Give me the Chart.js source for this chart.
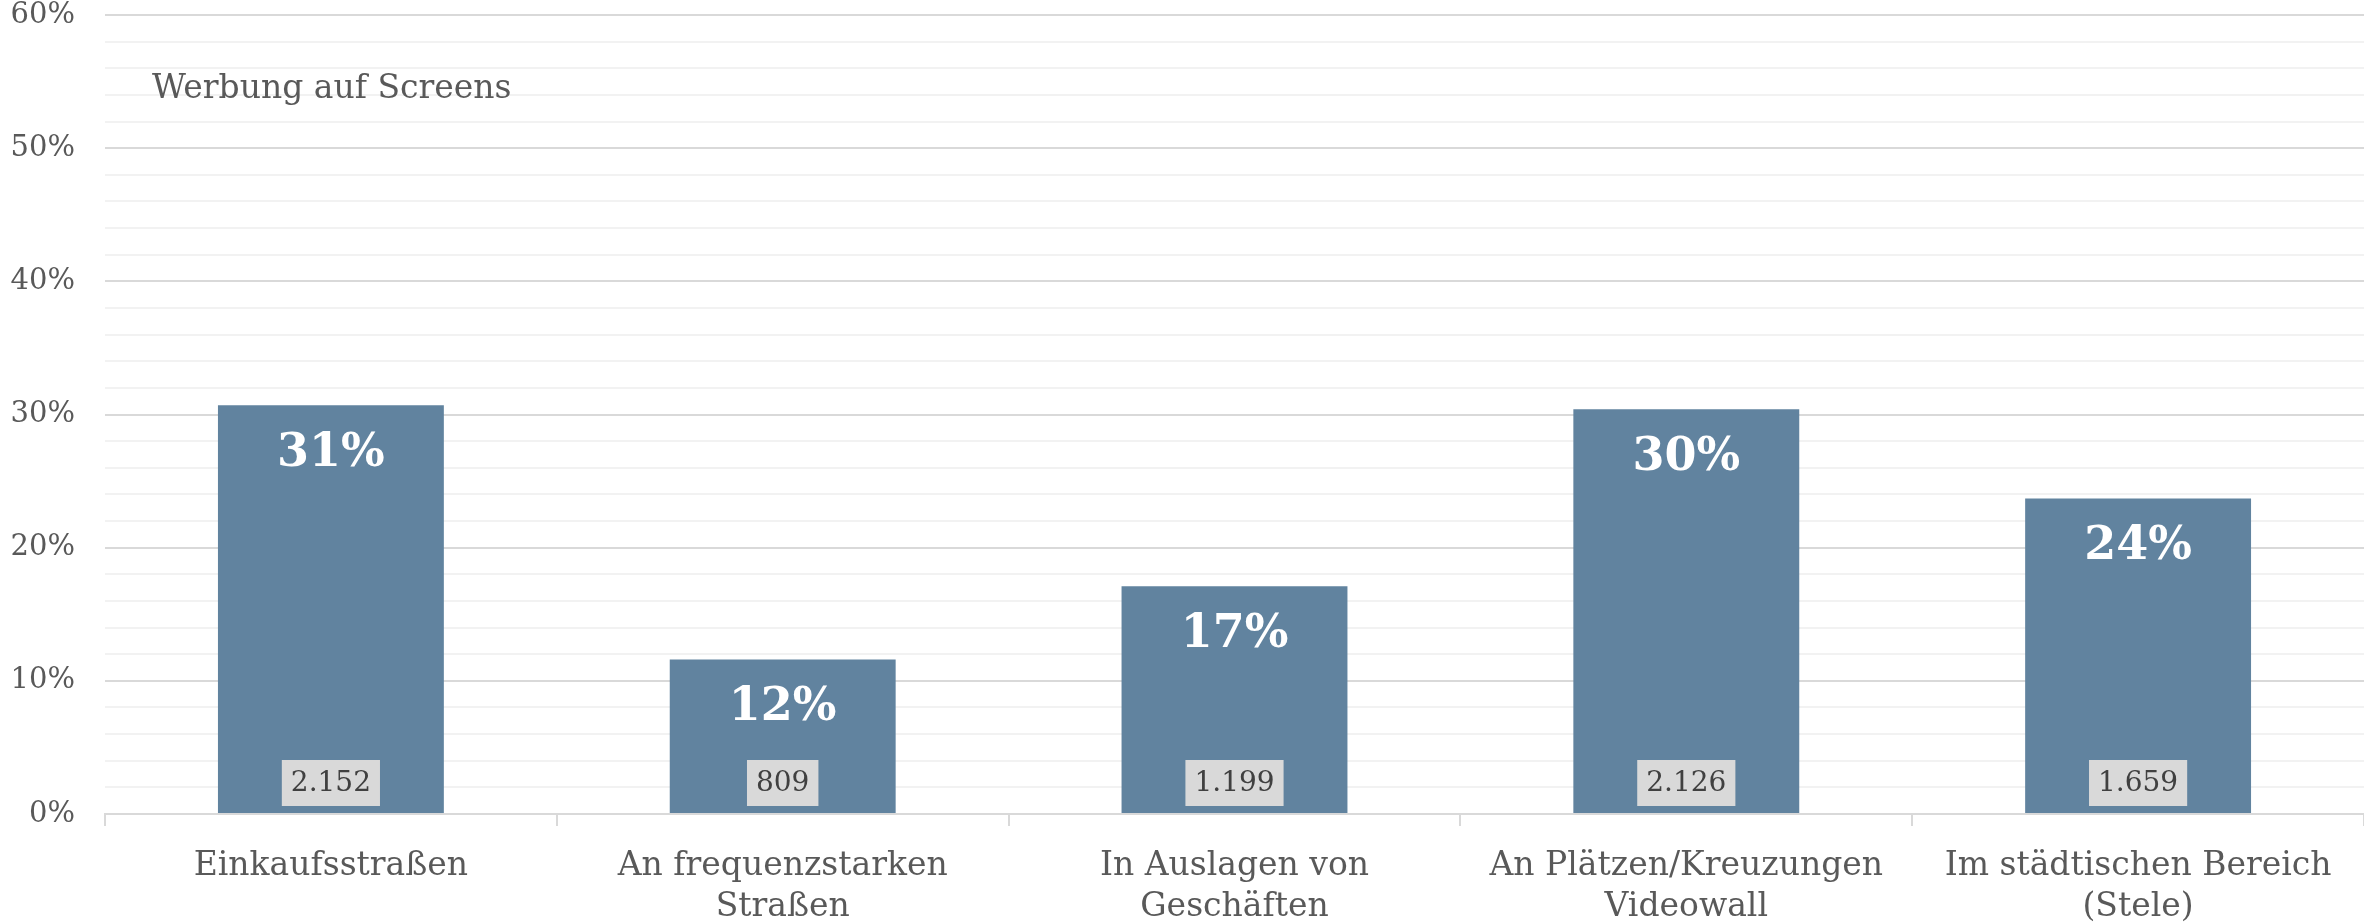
<!DOCTYPE html>
<html>
<head>
<meta charset="utf-8">
<script src="https://cdn.jsdelivr.net/npm/chart.js@4/dist/chart.umd.min.js"></script>
<style>
  html, body { margin: 0; padding: 0; background: #fff; }
  #wrap { width: 2364px; height: 924px; }
</style>
</head>
<body>
<div id="wrap"><canvas id="chart" width="2364" height="924"></canvas></div>
<script>
// values
const categories = [
    ["Einkaufsstraßen"],
    ["An frequenzstarken", "Straßen"],
    ["In Auslagen von", "Geschäften"],
    ["An Plätzen/Kreuzungen", "Videowall"],
    ["Im städtischen Bereich", "(Stele)"]
];
const shares = [30.7, 11.6, 17.1, 30.4, 23.7];        // percent
const counts = ["2.152", "809", "1.199", "2.126", "1.659"]; // respondents per bar
const chartTitle = "Werbung auf Screens";

const FONT = "'DejaVu Serif', serif";
const TEXT = "#595959";

// draws the title, the white percent labels and the grey count boxes
const labelPlugin = {
    id: "barLabels",
    afterDatasetsDraw(chart) {
        const ctx = chart.ctx;
        const area = chart.chartArea;
        const yScale = chart.scales.y;
        const meta = chart.getDatasetMeta(0);
        const base = yScale.getPixelForValue(0);

        ctx.save();
        // title inside the plot
        ctx.font = "33px " + FONT;
        ctx.fillStyle = TEXT;
        ctx.textAlign = "left";
        ctx.textBaseline = "middle";
        ctx.fillText(chartTitle, area.left + 47, area.top + 74);

        meta.data.forEach((bar, i) => {
            // percent label near the top of the bar
            ctx.font = "bold 46px " + FONT;
            ctx.fillStyle = "#ffffff";
            ctx.textAlign = "center";
            ctx.textBaseline = "middle";
            ctx.fillText(Math.round(shares[i]) + "%", bar.x, bar.y + 49);

            // count in a grey box at the bottom
            ctx.font = "28px " + FONT;
            const w = ctx.measureText(counts[i]).width + 18;
            const h = 46;
            ctx.fillStyle = "#d9d9d9";
            ctx.fillRect(bar.x - w / 2, base - 8 - h, w, h);
            ctx.fillStyle = "#404040";
            ctx.fillText(counts[i], bar.x, base - 8 - h / 2 + 1);
        });
        ctx.restore();
    }
};

new Chart(document.getElementById("chart"), {
    type: "bar",
    data: {
        labels: categories,
        datasets: [{
            data: shares,
            backgroundColor: "#61839f",
            borderWidth: 0,
            categoryPercentage: 1,
            barPercentage: 0.5
        }]
    },
    options: {
        responsive: false,
        animation: false,
        layout: { padding: { top: 15, right: 0, left: 0, bottom: 0 } },
        plugins: {
            legend: { display: false },
            tooltip: { enabled: false }
        },
        scales: {
            x: {
                afterFit(scale) { scale.height = 110; },
                grid: {
                    drawOnChartArea: false,
                    drawTicks: true,
                    tickLength: 12,
                    color: "#d9d9d9",
                    lineWidth: 2
                },
                border: { color: "#d9d9d9", width: 2 },
                ticks: {
                    color: TEXT,
                    font: { family: FONT, size: 33, lineHeight: 1.27 },
                    padding: 19,
                    maxRotation: 0,
                    autoSkip: false
                }
            },
            y: {
                min: 0,
                max: 60,
                afterFit(scale) {
                    scale.width = 105;
                    scale.paddingTop = 0;
                    scale.paddingBottom = 0;
                },
                grid: {
                    drawTicks: false,
                    color: (c) => (c.tick && c.tick.value % 10 === 0) ? "#d9d9d9" : "#f2f2f2",
                    lineWidth: 2
                },
                border: { display: false },
                ticks: {
                    stepSize: 2,
                    autoSkip: false,
                    padding: 30,
                    color: TEXT,
                    font: { family: FONT, size: 29 },
                    callback: (v) => (v % 10 === 0 ? v + "%" : "")
                }
            }
        }
    },
    plugins: [labelPlugin]
});
</script>
</body>
</html>
